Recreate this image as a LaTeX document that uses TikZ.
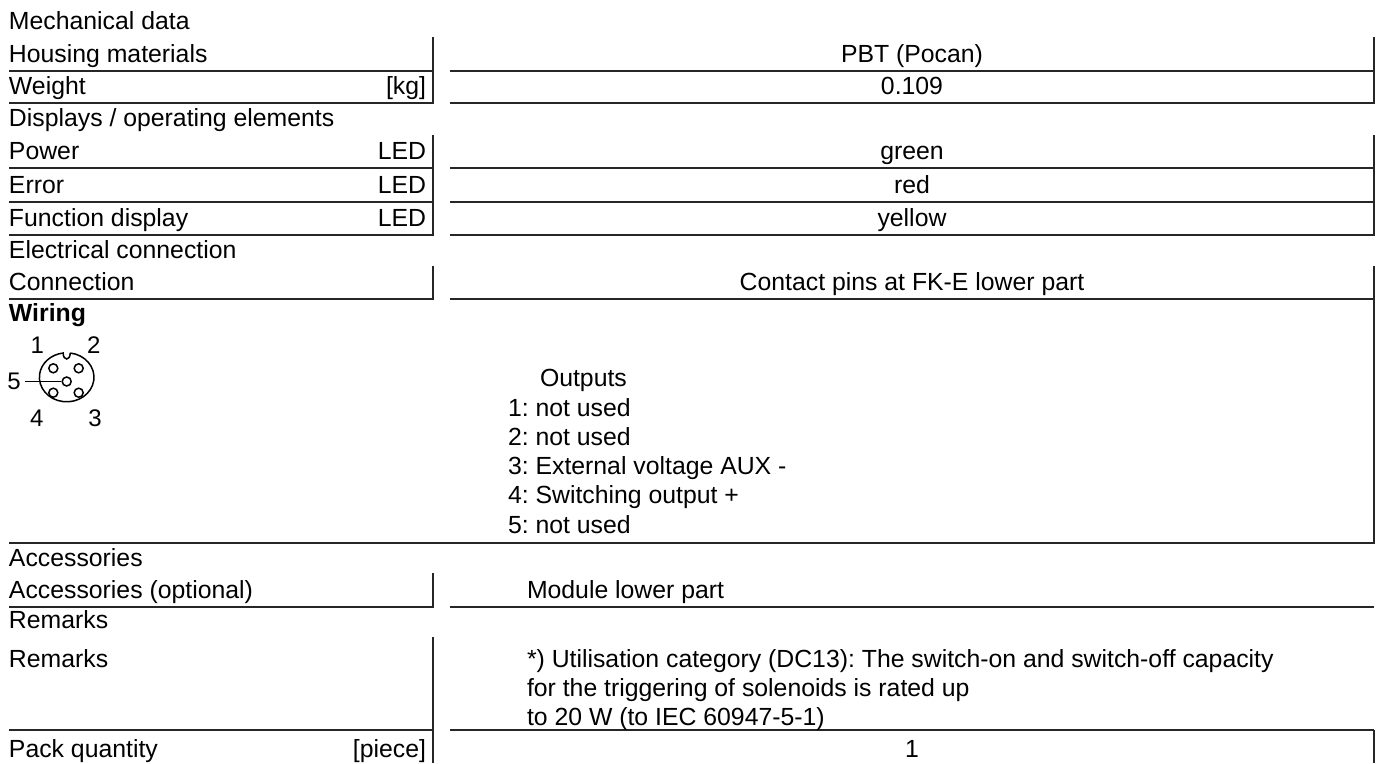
\documentclass[tikz,border=0pt]{standalone}
\usepackage{fontspec}
\setmainfont{Liberation Sans}
\frenchspacing
\begin{document}
\begin{tikzpicture}[x=1pt,y=-1pt,
  txt/.style={inner sep=0pt, outer sep=0pt, font=\fontsize{24.8}{29}\selectfont},
  lft/.style={txt, anchor=base west},
  rgt/.style={txt, anchor=base east},
  ctr/.style={txt, anchor=base},
  pinnum/.style={inner sep=0pt, font=\fontsize{24}{28}\selectfont, anchor=center},
  rule/.style={line width=1.5pt, draw=black!85, line join=miter},
  icon/.style={line width=1.5pt, draw=black},
  pin/.style={circle, icon, minimum size=9pt, inner sep=0pt}]
\useasboundingbox (0,0) rectangle (1381,763);

% ---------- rules ----------
% Housing / Weight
\draw[rule] (433,37) -- (433,103) -- (9,103);
\draw[rule] (9,71) -- (433,71);
\draw[rule] (1374,37) -- (1374,103) -- (450,103);
\draw[rule] (450,71) -- (1374,71);
% Displays
\draw[rule] (433,135) -- (433,235) -- (9,235);
\draw[rule] (9,168) -- (433,168);
\draw[rule] (9,202) -- (433,202);
\draw[rule] (1374,135) -- (1374,235) -- (450,235);
\draw[rule] (450,168) -- (1374,168);
\draw[rule] (450,202) -- (1374,202);
% Connection
\draw[rule] (433,266) -- (433,299) -- (9,299);
\draw[rule] (1374,266) -- (1374,299) -- (450,299);
% Wiring block
\draw[rule] (1374,299) -- (1374,543) -- (9,543);
% Accessories (optional)
\draw[rule] (433,573) -- (433,607) -- (9,607);
\draw[rule] (450,607) -- (1374,607);
% Remarks
\draw[rule] (433,637) -- (433,763);
\draw[rule] (9,730) -- (433,730);
\draw[rule] (450,730) -- (1374,730);
% Pack quantity
\draw[rule] (1374,730) -- (1374,763);

% ---------- texts ----------
\node[lft] (t1) at (9,29) {Mechanical data};
\node[lft] (t2) at (9,62) {Housing materials};
\node[ctr] (v2) at (912,62) {PBT (Pocan)};
\node[lft] (t3) at (9,94) {Weight};
\node[rgt] (u3) at (426,94) {[kg]};
\node[ctr] (v3) at (912,94) {0.109};
\node[lft] (t4) at (9,126) {Displays / operating elements};
\node[lft] (t5) at (9,159) {Power};
\node[rgt] (u5) at (426,159) {LED};
\node[ctr] (v5) at (912,159) {green};
\node[lft] (t6) at (9,193) {Error};
\node[rgt] (u6) at (426,193) {LED};
\node[ctr] (v6) at (912,193) {red};
\node[lft] (t7) at (9,226) {Function display};
\node[rgt] (u7) at (426,226) {LED};
\node[ctr] (v7) at (912,226) {yellow};
\node[lft] (t8) at (9,258) {Electrical connection};
\node[lft] (t9) at (9,290) {Connection};
\node[ctr] (v9) at (912,290) {Contact pins at FK-E lower part};
\node[lft, font=\fontsize{24.8}{29}\selectfont\bfseries] (t10) at (9,321) {Wiring};

\node[lft] (o0) at (540,386) {Outputs};
\node[lft] (o1) at (508,416) {1: not used};
\node[lft] (o2) at (508,445) {2: not used};
\node[lft] (o3) at (508,474) {3: External voltage AUX -};
\node[lft] (o4) at (508,503) {4: Switching output +};
\node[lft] (o5) at (508,533) {5: not used};

\node[lft] (t11) at (9,566) {Accessories};
\node[lft] (t12) at (9,598) {Accessories (optional)};
\node[lft] (v12) at (527,598) {Module lower part};
\node[lft] (t13) at (9,628) {Remarks};
\node[lft] (t14) at (9,667) {Remarks};
\node[lft] (r1) at (527,667) {*) Utilisation category (DC13): The switch-on and switch-off capacity};
\node[lft] (r2) at (527,696) {for the triggering of solenoids is rated up};
\node[lft] (r3) at (527,725) {to 20 W (to IEC 60947-5-1)};
\node[lft] (t15) at (9,757) {Pack quantity};
\node[rgt] (u15) at (426,757) {[piece]};
\node[ctr] (v15) at (912,757) {1};

% ---------- connector icon ----------
\draw[icon] (70.2,353) arc[start angle=277.4, end angle=622.6, x radius=27.3, y radius=24.5]
  .. controls (63.2,361) and (70.2,361) .. (70.2,353);
\node[pin] (p1) at (53.3,368.3) {};
\node[pin] (p2) at (78.7,368.3) {};
\node[pin] (p5) at (66.7,381.5) {};
\node[pin] (p4) at (53.3,392.7) {};
\node[pin] (p3) at (78.7,392.7) {};
\coordinate (l5) at (25,381.5);
\draw[icon] (l5) -- (p5.west);
\node[pinnum] (n1) at (37.3,345) {1};
\node[pinnum] (n2) at (93.8,345) {2};
\node[pinnum] (n5) at (14,381.5) {5};
\node[pinnum] (n4) at (36.7,418) {4};
\node[pinnum] (n3) at (95,418) {3};
\end{tikzpicture}
\end{document}
